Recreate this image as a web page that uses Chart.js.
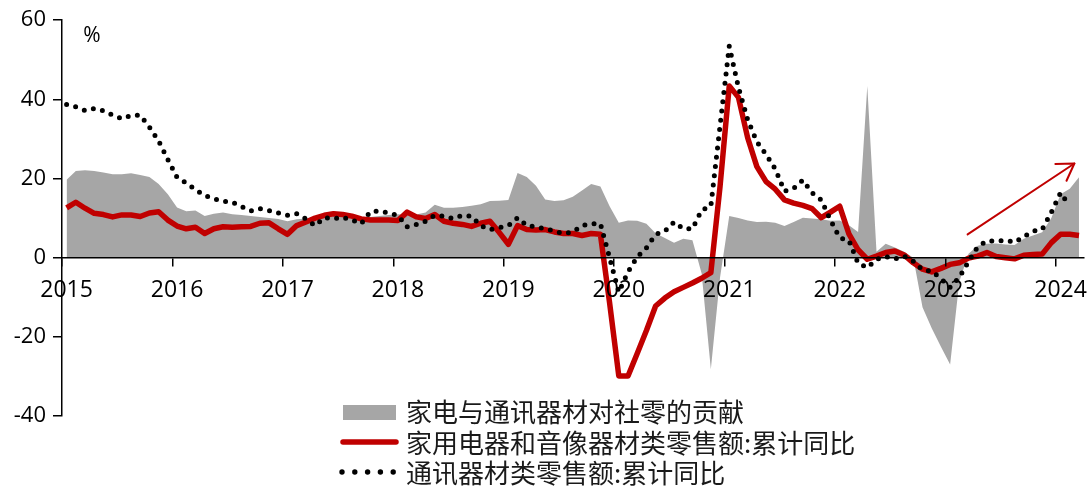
<!DOCTYPE html>
<html>
<head>
<meta charset="utf-8">
<script src="https://cdn.jsdelivr.net/npm/chart.js@4.4.1/dist/chart.umd.min.js"></script>
<style>
html,body{margin:0;padding:0;background:#fff;}
#wrap{width:1090px;height:486px;position:relative;}
</style>
</head>
<body>
<div id="wrap"><canvas id="c" width="1090" height="486"></canvas></div>
<script>
// ---- categories ----
const years = [2015, 2016, 2017, 2018, 2019, 2020, 2021, 2022, 2023, 2024];
const lastMonthOf2024 = 3;
const months = [];
years.forEach(y => {
  const n = (y === 2024) ? lastMonthOf2024 : 12;
  for (let m = 1; m <= n; m++) months.push(y + '-' + String(m).padStart(2, '0'));
});

// ---- series (monthly, %) ----
const contribution = [ // 家电与通讯器材对社零的贡献
  19.7, 21.9, 22.1, 21.9, 21.5, 21.1, 21.1, 21.3, 20.9, 20.4, 18.6, 16.0,
  12.7, 11.7, 11.9, 10.5, 11.1, 11.4, 11.0, 10.8, 10.5, 10.3, 10.0, 9.8,
  9.2, 9.7, 9.9, 10.0, 10.3, 10.5, 10.4, 10.3, 10.2, 10.3, 10.5, 10.8,
  11.0, 10.8, 10.9, 11.4, 13.4, 12.6, 12.6, 12.8, 13.1, 13.5, 14.3, 14.4,
  14.6, 21.4, 20.4, 18.2, 14.7, 14.3, 14.5, 15.4, 17.0, 18.6, 18.0, 13.0,
  8.8, 9.4, 9.3, 8.6, 6.2, 5.0, 3.8, 4.8, 4.4, -4.0, -28.2, -5.0,
  10.5, 10.0, 9.4, 9.0, 9.1, 8.8, 8.0, 9.0, 10.1, 9.9, 9.7, 9.3,
  9.4, 8.2, 6.5, 43.4, 1.5, 3.5, 2.6, 1.5, 0.0, -12.5, -17.8, -22.5,
  -27.0, -6.0, 1.0, 3.0, 3.5, 3.6, 3.3, 3.2, 4.8, 5.6, 6.4, 10.0,
  16.0, 17.4, 20.3
];
const appliances = [ // 家用电器和音像器材类零售额:累计同比
  12.6, 14.0, 12.5, 11.2, 10.9, 10.3, 10.8, 10.8, 10.4, 11.3, 11.6, 9.5,
  8.0, 7.3, 7.7, 6.1, 7.3, 7.8, 7.7, 7.8, 7.9, 8.7, 8.8, 7.3,
  5.9, 8.1, 9.0, 10.0, 10.7, 11.1, 10.9, 10.5, 9.8, 9.5, 9.5, 9.5,
  9.4, 11.5, 10.3, 9.9, 10.9, 9.2, 8.7, 8.4, 7.9, 8.7, 9.2, 6.4,
  3.4, 8.1, 7.1, 7.0, 7.1, 6.5, 6.1, 6.1, 5.6, 6.1, 5.9, -11.4,
  -29.9, -29.9, -24.2, -18.4, -12.2, -10.2, -8.6, -7.5, -6.4, -5.2, -3.8, 18.0,
  43.4, 40.5, 30.3, 23.0, 19.2, 17.3, 14.6, 13.8, 13.2, 12.4, 10.1, 11.5,
  13.0, 6.0, 2.0, -0.4, 0.4, 1.3, 1.7, 0.7, -1.3, -2.9, -3.6, -2.7,
  -1.7, -1.3, -0.1, 0.4, 1.3, 0.3, 0.0, -0.3, 0.6, 0.8, 0.9, 3.8,
  5.9, 5.9, 5.6
];
const telecom = [ // 通讯器材类零售额:累计同比
  38.7, 38.1, 37.2, 37.7, 37.1, 36.0, 35.1, 35.9, 36.0, 33.0, 29.5, 24.8,
  20.3, 18.9, 17.2, 15.7, 14.9, 14.3, 14.0, 12.9, 11.8, 12.4, 11.9, 11.3,
  10.7, 11.1, 9.8, 8.1, 10.1, 9.8, 10.2, 9.5, 8.6, 11.6, 11.8, 11.3,
  10.7, 7.8, 8.4, 9.2, 10.7, 10.5, 9.9, 10.7, 10.5, 8.1, 7.1, 7.6,
  8.1, 10.1, 8.1, 7.8, 7.3, 6.7, 6.1, 6.5, 8.1, 8.6, 8.6, 0.0,
  -8.7, -3.6, 0.2, 2.5, 5.9, 6.7, 9.0, 7.3, 7.3, 12.0, 13.0, 33.3,
  53.4, 43.0, 34.9, 29.3, 26.1, 22.4, 16.8, 17.5, 19.6, 16.4, 14.6, 9.5,
  5.0, 4.4, -1.4, -2.5, -0.4, 0.3, -0.3, 0.4, -0.9, -3.1, -3.4, -5.3,
  -7.5, -5.0, -1.0, 2.8, 4.2, 4.2, 4.4, 3.9, 5.3, 6.7, 7.1, 11.5,
  16.4, 13.0, null
];
const seriesNames = ['家电与通讯器材对社零的贡献', '家用电器和音像器材类零售额:累计同比', '通讯器材类零售额:累计同比'];
const yTicks = { min: -40, max: 60, step: 20 };
const unitLabel = '%';
// trend arrow annotation: [monthIndex, value] start -> end
const trendArrow = { from: [97.9, 5.9], to: [109.5, 23.8] };

const RED = '#C00000', GRAY = '#A6A6A6';
const NUMFONT = "'Open Sans', 'Liberation Sans', sans-serif";
const CJKFONT = "'Noto Sans CJK SC', 'Noto Sans', sans-serif";

const overlay = {
  id: 'overlay',
  afterDatasetsDraw(chart) {
    const c = chart.ctx, xs = chart.scales.x, ys = chart.scales.y;
    const x1 = xs.getPixelForValue(trendArrow.from[0]), y1 = ys.getPixelForValue(trendArrow.from[1]);
    const x2 = xs.getPixelForValue(trendArrow.to[0]), y2 = ys.getPixelForValue(trendArrow.to[1]);
    const ang = Math.atan2(y2 - y1, x2 - x1);
    const hl = 19, ha = 32 * Math.PI / 180;
    c.save();
    c.strokeStyle = RED; c.lineWidth = 2; c.lineCap = 'round'; c.lineJoin = 'round';
    c.beginPath(); c.moveTo(x1, y1); c.lineTo(x2, y2); c.stroke();
    c.beginPath();
    c.moveTo(x2 - hl * Math.cos(ang - ha), y2 - hl * Math.sin(ang - ha));
    c.lineTo(x2, y2);
    c.lineTo(x2 - hl * Math.cos(ang + ha), y2 - hl * Math.sin(ang + ha));
    c.stroke();
    c.restore();
  },
  afterDraw(chart) {
    const c = chart.ctx;
    c.save();
    c.fillStyle = '#000';
    c.font = "21px " + NUMFONT;
    c.textAlign = 'center'; c.textBaseline = 'middle';
    c.fillText(unitLabel, 92, 36);
    const tx = 406, rows = [411, 442, 472];
    c.font = "26px " + CJKFONT;
    c.textAlign = 'left'; c.textBaseline = 'middle';
    c.fillStyle = '#1a1a1a';
    seriesNames.forEach((s, i) => c.fillText(s, tx, rows[i] + 1));
    c.fillStyle = GRAY;
    c.fillRect(343, 405, 53, 15);
    c.strokeStyle = RED; c.lineWidth = 5.5; c.lineCap = 'round';
    c.beginPath(); c.moveTo(343, rows[1]); c.lineTo(396, rows[1]); c.stroke();
    c.fillStyle = '#000';
    for (let k = 0; k < 5; k++) {
      c.beginPath(); c.arc(342 + k * 12.8, rows[2], 2.7, 0, Math.PI * 2); c.fill();
    }
    c.restore();
  }
};

new Chart(document.getElementById('c'), {
  type: 'line',
  data: {
    labels: months,
    datasets: [
      { label: seriesNames[0], data: contribution, order: 3, fill: 'origin',
        backgroundColor: GRAY, borderColor: 'rgba(0,0,0,0)', borderWidth: 1,
        pointRadius: 0, tension: 0 },
      { label: seriesNames[1], data: appliances, order: 2, fill: false,
        borderColor: RED, borderWidth: 5.5, borderJoinStyle: 'round',
        pointRadius: 0, tension: 0 },
      { label: seriesNames[2], data: telecom, order: 1, fill: false,
        borderColor: '#000', borderWidth: 5, borderDash: [0, 9.3], borderCapStyle: 'round',
        pointRadius: 0, tension: 0 }
    ]
  },
  options: {
    responsive: false,
    animation: false,
    events: [],
    layout: { padding: { left: 0, right: 6, top: 20, bottom: 70 } },
    plugins: { legend: { display: false }, tooltip: { enabled: false } },
    scales: {
      x: {
        type: 'category',
        position: { y: 0 },
        offset: true,
        grid: {
          z: 1,
          offset: true, drawOnChartArea: false, drawTicks: true, tickLength: 8, lineWidth: 1.5,
          color: 'rgba(0,0,0,0)',
          tickColor: (ctx) => (ctx.index !== undefined && ctx.index % 12 === 0) ? '#000' : 'rgba(0,0,0,0)'
        },
        border: { display: true, color: '#000', width: 1.5, z: 1 },
        ticks: {
          z: 1,
          autoSkip: false, maxRotation: 0, minRotation: 0, padding: 11,
          color: '#000', font: { family: NUMFONT, size: 23 },
          callback: (v, i) => (i % 12 === 0) ? String(years[i / 12]) : ''
        }
      },
      y: {
        min: yTicks.min, max: yTicks.max,
        afterFit: (s) => { s.width = 62; },
        grid: { drawOnChartArea: false, drawTicks: true, tickLength: 9, lineWidth: 1.5, color: '#000', tickColor: '#000' },
        border: { display: true, color: '#000', width: 1.5 },
        ticks: { stepSize: yTicks.step, padding: 7, color: '#000', font: { family: NUMFONT, size: 22 } }
      }
    }
  },
  plugins: [overlay]
});
</script>
</body>
</html>
